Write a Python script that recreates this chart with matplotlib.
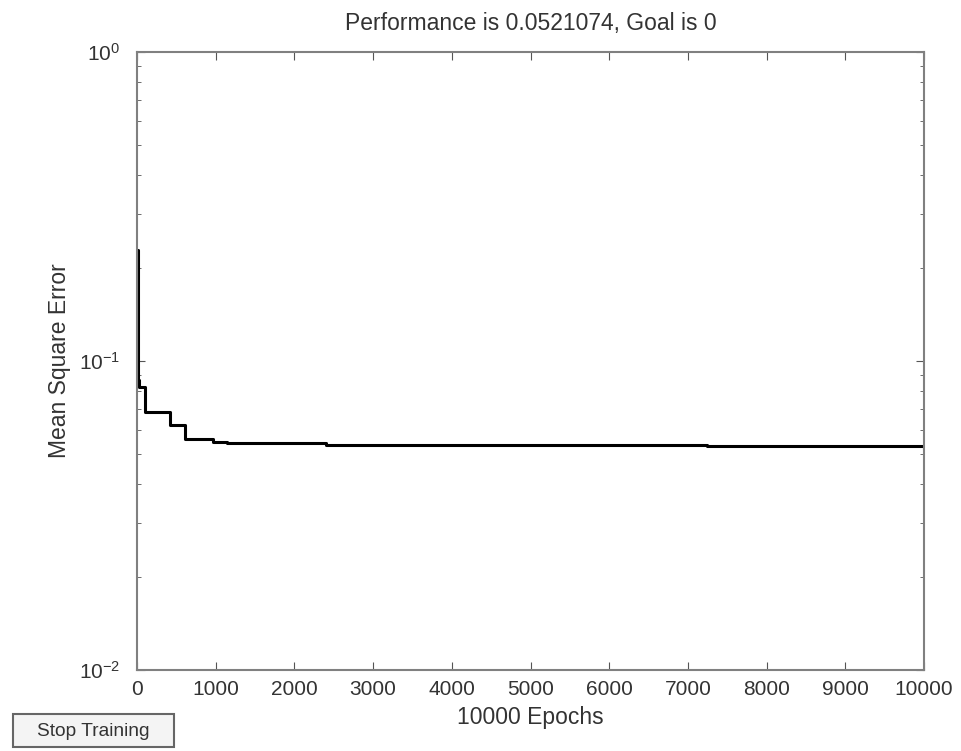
import matplotlib
matplotlib.use("Agg")
import matplotlib.pyplot as plt
from matplotlib.patches import Rectangle
from matplotlib.ticker import LogLocator

# punti di cambio (epoca, errore)
epocas = [0, 8, 20, 100, 420, 610, 960, 1140, 2400, 7240, 10000]
erro_mse = [0.229, 0.0868, 0.0826, 0.0684, 0.062, 0.056, 0.0548, 0.0544, 0.0536, 0.0530, 0.0521]

titulo = "Performance is 0.0521074, Goal is 0"
rotulo_x = "10000 Epochs"
rotulo_y = "Mean Square Error"
xticks = [0, 1000, 2000, 3000, 4000, 5000, 6000, 7000, 8000, 9000, 10000]

plt.rcParams['font.family'] = ['Liberation Sans', 'DejaVu Sans']

fig = plt.figure(figsize=(9.61, 7.51), dpi=100)
ax = fig.add_axes([0.1426, 0.1079, 0.8189, 0.8229])

ax.plot(epocas, erro_mse, color='black', linewidth=2.2, drawstyle='steps-post')

ax.set_yscale('log')
ax.set_ylim(0.01, 1)
ax.set_xlim(0, 10000)
ax.set_xticks(xticks)
ax.yaxis.set_minor_locator(LogLocator(base=10, subs=range(2, 10)))

cinza = '#555555'
for s in ax.spines.values():
    s.set_color('#808080')
    s.set_linewidth(1.5)
ax.tick_params(which='both', direction='in', top=True, right=True, colors=cinza, labelcolor='#333333', labelsize=15)
ax.tick_params(which='major', length=6)
ax.tick_params(which='minor', length=3)
ax.tick_params(axis='x', pad=7)
ax.tick_params(axis='y', pad=12)

ax.set_title(titulo, fontsize=16.5, color='#333333', pad=16)
ax.set_xlabel(rotulo_x, fontsize=16.5, color='#333333', labelpad=5)
ax.set_ylabel(rotulo_y, fontsize=16.5, color='#333333', labelpad=6)

# botão "Stop Training"
fig.patches.append(Rectangle((13 / 961, 4 / 751), 161 / 961, 33 / 751, transform=fig.transFigure,
                             facecolor='#f4f4f4', edgecolor='#666666', linewidth=1.5))
fig.text(93 / 961, 20 / 751, "Stop Training", ha='center', va='center', fontsize=13.8, color='#333333')

plt.savefig("out.png", dpi=100)
